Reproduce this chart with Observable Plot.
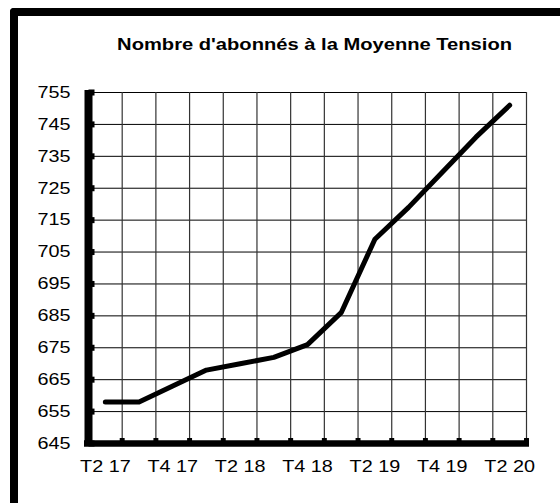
<!DOCTYPE html>
<html><head><meta charset="utf-8">
<script src="https://cdn.jsdelivr.net/npm/d3@7"></script>
<script src="https://cdn.jsdelivr.net/npm/@observablehq/plot@0.6"></script>
<style>
html,body{margin:0;padding:0;background:#fff;}
#wrap{position:relative;width:560px;height:503px;overflow:hidden;background:#fff;font-family:"Liberation Sans",Arial,sans-serif;}
#frame{position:absolute;left:10px;top:8px;width:600px;height:600px;border-left:8px solid #000;border-top:8px solid #000;border-top-left-radius:4px;box-sizing:border-box;pointer-events:none;}
#title{position:absolute;left:70px;width:490px;top:37px;text-align:center;font-weight:bold;font-size:16.8px;line-height:16.8px;white-space:nowrap;color:#000;}
#title span{display:inline-block;transform:scaleX(1.2);transform-origin:center;}
#chart{position:absolute;left:0;top:60px;}
</style></head>
<body><div id="wrap"><div id="title"><span id="tt"></span></div><div id="chart"></div><div id="frame"></div></div>
<script>
const titleText = "Nombre d'abonnés à la Moyenne Tension";
const quarters = ["T2 17","T3 17","T4 17","T1 18","T2 18","T3 18","T4 18","T1 19","T2 19","T3 19","T4 19","T1 20","T2 20"];
const subscribers = [658,658,663,668,670,672,676,686,709,719,730,741,751];
const yTicks = [645,655,665,675,685,695,705,715,725,735,745,755];
const xTickLabels = ["T2 17","T4 17","T2 18","T4 18","T2 19","T4 19","T2 20"];

document.getElementById("tt").textContent = titleText;

const rows = quarters.map((q, i) => ({i, q, v: subscribers[i]}));
const edges = d3.range(quarters.length + 1).map(k => k - 0.5);
const xMin = edges[0], xMax = edges[edges.length - 1];
const yMin = yTicks[0], yMax = yTicks[yTicks.length - 1];

const chart = Plot.plot({
  width: 560,
  height: 443,
  marginTop: 32,
  marginBottom: 60,
  marginLeft: 88,
  marginRight: 34,
  style: {background: "transparent", fontFamily: "'Liberation Sans', Arial, sans-serif", fontSize: "16.5px", color: "#000"},
  x: {domain: [xMin, xMax]},
  y: {domain: [yMin, yMax]},
  marks: [
    Plot.ruleY(yTicks.slice(1), {stroke: "#000", strokeWidth: 1}),
    Plot.ruleX(edges.slice(1), {stroke: "#333", strokeWidth: 1.2}),
    Plot.line(rows, {x: "i", y: "v", stroke: "#000", strokeWidth: 5, strokeLinecap: "round", strokeLinejoin: "round"}),
    Plot.ruleX([xMin], {stroke: "#000", strokeWidth: 8, insetTop: -2, insetBottom: -3}),
    Plot.ruleY([yMin], {stroke: "#000", strokeWidth: 6.5, insetLeft: -4, insetRight: -3}),
    Plot.dot(yTicks, {x: () => xMin, y: d => d, symbol: "square", r: 3.4, dx: 3, fill: "#000", stroke: null}),
    Plot.dot(edges.slice(1), {x: d => d, y: () => yMin, symbol: "square", r: 2.8, dy: -3, fill: "#000", stroke: null}),
    Plot.axisY(yTicks, {anchor: "left", tickSize: 0, tickPadding: 18, label: null, tickFormat: d => String(d)}),
    Plot.axisX(xTickLabels.map(l => quarters.indexOf(l)), {anchor: "bottom", tickSize: 0, tickPadding: 17, label: null, tickFormat: i => quarters[i]})
  ]
});
document.getElementById("chart").appendChild(chart);
chart.querySelectorAll("text").forEach(t => {
  const w = t.getComputedTextLength();
  if (w > 0) {
    t.setAttribute("textLength", (w * 1.2).toFixed(2));
    t.setAttribute("lengthAdjust", "spacingAndGlyphs");
  }
});
</script>
</body></html>
